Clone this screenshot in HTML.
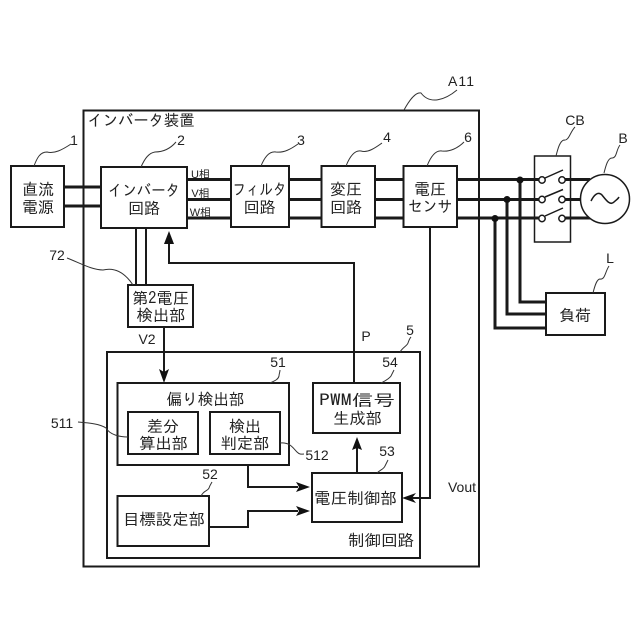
<!DOCTYPE html>
<html><head><meta charset="utf-8">
<style>html,body{margin:0;padding:0;background:#fff}svg{display:block}
text{font-family:"IPAGothic","Liberation Sans","Noto Sans CJK JP",sans-serif;fill:#222;font-size:16px;text-anchor:middle}
.n{font-family:"Liberation Sans",sans-serif;font-size:14px}
.s{font-family:"Liberation Sans","IPAGothic",sans-serif;font-size:11px}
</style></head><body>
<svg width="640" height="640" viewBox="0 0 640 640" xmlns="http://www.w3.org/2000/svg">
<rect width="640" height="640" fill="#fff"/>
<g fill="none" stroke="#1a1a1a">
<!-- thick lines -->
<g stroke-width="3">
<path d="M64 187H101M64 206H101"/>
<path d="M187 179.500H231M187 199.500H231M187 218H231"/>
<path d="M289 179.500H321M289 199.500H321M289 218H321"/>
<path d="M375 179.500H403M375 199.500H403M375 218H403"/>
<path d="M457 179.500H539M457 199.500H539M457 218H539"/>
<path d="M565 179.500H590M565 199.500H585M565 218H590"/>
<path d="M520 180V302H546M507 199.500V314H546M495 218V328H546"/>
</g>
<!-- boxes -->
<g stroke-width="2" fill="#fff">
<rect x="83.500" y="110.500" width="395.500" height="456" fill="none"/>
<path d="M64 187H101M64 206H101" stroke-width="3"/>
<rect x="11" y="166" width="53" height="61"/>
<rect x="101" y="167" width="86" height="61"/>
<rect x="231" y="166" width="58" height="61"/>
<rect x="321.500" y="166" width="53.500" height="61"/>
<rect x="403.500" y="166" width="53.500" height="61"/>
<rect x="128" y="285" width="65" height="42"/>
<rect x="107" y="352" width="313" height="206"/>
<rect x="117.500" y="383" width="171.500" height="82"/>
<rect x="128" y="412" width="70" height="42"/>
<rect x="210" y="412" width="70" height="42"/>
<rect x="117.500" y="496" width="91.500" height="50"/>
<rect x="313" y="383" width="87" height="50"/>
<rect x="312" y="473" width="90" height="49"/>
<rect x="546" y="293" width="59" height="42"/>
</g>
<!-- thin connectors -->
<g stroke-width="2">
<path d="M136 228V285M146 228V285"/>
<path d="M164 327V372"/>
<path d="M169 242V263H354V383"/>
<path d="M430 227V498H412"/>
<path d="M357 473V448"/>
<path d="M248 465V487H298"/>
<path d="M209 527H248V511H298"/>
</g>
<!-- CB -->
<rect x="534.500" y="156" width="36" height="86" stroke-width="1.500" fill="#fff"/>
<path d="M534 179.500H539M534 199.500H539M534 218H539M565 179.500H571M565 199.500H571M565 218H571" stroke-width="3"/>
<g stroke-width="1.500" fill="#fff">
<circle cx="542" cy="180" r="3.200"/><circle cx="562" cy="180" r="3.200"/>
<circle cx="542" cy="199.500" r="3.200"/><circle cx="562" cy="199.500" r="3.200"/>
<circle cx="542" cy="218.500" r="3.200"/><circle cx="562" cy="218.500" r="3.200"/>
<path d="M545 178L563 170M545 197L563 189.500M545 216L563 208"/>
<circle cx="605" cy="199" r="24.500" stroke-width="1.500"/>
</g>
<path d="M591 201C594 195 598 191 602 195C606 200 610 206 614 202C616 200 618 199 619 197" stroke-width="1.500"/>
<!-- leaders -->
<g stroke-width="1" stroke="#333">
<path d="M34 166C37 158 40 152 47 152C54 154 62 150 71 144"/>
<path d="M141 167C145 158 149 153 155 152C163 152 170 149 176 142"/>
<path d="M261 166C265 156 270 151 276 152C284 153 291 149 298 144"/>
<path d="M346 166C350 156 355 150 361 151C368 153 375 148 382 143"/>
<path d="M427 166C431 156 436 150 442 151C450 152 458 148 464 142"/>
<path d="M404 110C409 101 415 92 421 93C430 105 445 100 457 90"/>
<path d="M556 156C558 148 560 141 564 140C569 141 570 132 575 127"/>
<path d="M604 173C606 165 608 158 612 158C617 158 616 150 620 145"/>
<path d="M593 293C595 285 597 279 600 279C605 280 605 272 609 266"/>
<path d="M67 258C80 263 92 270 103 270C115 267 125 273 133 285"/>
<path d="M78 422C90 423 100 424 106 428C110 435 120 437 128 437"/>
<path d="M280 443C290 442 293 448 297 452C300 455 302 454 304 454"/>
<path d="M201 496C204 490 208 491 209 488C210 485 211 484 212 482"/>
<path d="M270 383C274 381 278 380 279 376C279 374 280 372 280 370"/>
<path d="M381 383C385 381 389 379 391 376C392 374 393 372 394 370"/>
<path d="M377 473C380 470 384 469 385 466C386 464 387 462 388 460"/>
<path d="M400 352C403 347 407 346 408 343C409 340 410 338 411 337"/>
</g>
</g>
<!-- arrowheads -->
<g fill="#111" stroke="none">
<path d="M169 231L174 244H164Z"/>
<path d="M164 383L159 369L164 372L169 369Z"/>
<path d="M357 437L362 450L357 448L352 450Z"/>
<path d="M402 498L416 493L412 498L416 503Z"/>
<path d="M310 487L296 482L299 487L296 492Z"/>
<path d="M310 511L296 506L299 511L296 516Z"/>
<circle cx="520" cy="180" r="3.500"/>
<circle cx="507" cy="199.500" r="3.500"/>
<circle cx="495" cy="218.500" r="3.500"/>
</g>
<!-- labels -->
<text x="141" y="126" textLength="107" lengthAdjust="spacingAndGlyphs">インバータ装置</text>
<text x="38" y="195">直流</text><text x="38" y="213">電源</text>
<text x="144" y="196" textLength="72" lengthAdjust="spacingAndGlyphs">インバータ</text><text x="144" y="214">回路</text>
<text x="259.500" y="195" textLength="54" lengthAdjust="spacingAndGlyphs">フィルタ</text><text x="259.500" y="213">回路</text>
<text x="346" y="195">変圧</text><text x="346" y="213">回路</text>
<text x="430" y="195">電圧</text><text x="430" y="212" textLength="44" lengthAdjust="spacingAndGlyphs">センサ</text>
<text class="s" x="200.500" y="178">U相</text><text class="s" x="200.500" y="197">V相</text><text class="s" x="200.500" y="216">W相</text>
<text x="160.500" y="304" textLength="57" lengthAdjust="spacingAndGlyphs">第2電圧</text><text x="161" y="321" textLength="49" lengthAdjust="spacingAndGlyphs">検出部</text>
<text x="575" y="321">負荷</text>
<text x="205.500" y="405" textLength="78" lengthAdjust="spacingAndGlyphs">偏り検出部</text>
<text x="163" y="432">差分</text><text x="163.500" y="449" textLength="49" lengthAdjust="spacingAndGlyphs">算出部</text>
<text x="245" y="432">検出</text><text x="245" y="449" textLength="49" lengthAdjust="spacingAndGlyphs">判定部</text>
<text x="164" y="525" textLength="82" lengthAdjust="spacingAndGlyphs">目標設定部</text>
<text x="357" y="406" textLength="76" lengthAdjust="spacingAndGlyphs">PWM信号</text><text x="357.500" y="424" textLength="49" lengthAdjust="spacingAndGlyphs">生成部</text>
<text x="355.500" y="504" textLength="83" lengthAdjust="spacingAndGlyphs">電圧制御部</text>
<text x="381" y="546" textLength="66" lengthAdjust="spacingAndGlyphs">制御回路</text>
<text class="n" x="74" y="145">1</text>
<text class="n" x="181" y="145">2</text>
<text class="n" x="301" y="145">3</text>
<text class="n" x="387" y="142">4</text>
<text class="n" x="468" y="142">6</text>
<text class="n" x="461" y="86" textLength="26">A11</text>
<text class="n" x="575" y="125">CB</text>
<text class="n" x="623" y="143">B</text>
<text class="n" x="610" y="263">L</text>
<text class="n" x="57" y="260">72</text>
<text class="n" x="147" y="344">V2</text>
<text class="n" x="366" y="341">P</text>
<text class="n" x="410" y="335">5</text>
<text class="n" x="278" y="367">51</text>
<text class="n" x="390" y="367">54</text>
<text class="n" x="387" y="456">53</text>
<text class="n" x="210" y="479">52</text>
<text class="n" x="62" y="428">511</text>
<text class="n" x="317" y="460">512</text>
<text class="n" x="462" y="492">Vout</text>
</svg>
</body></html>
